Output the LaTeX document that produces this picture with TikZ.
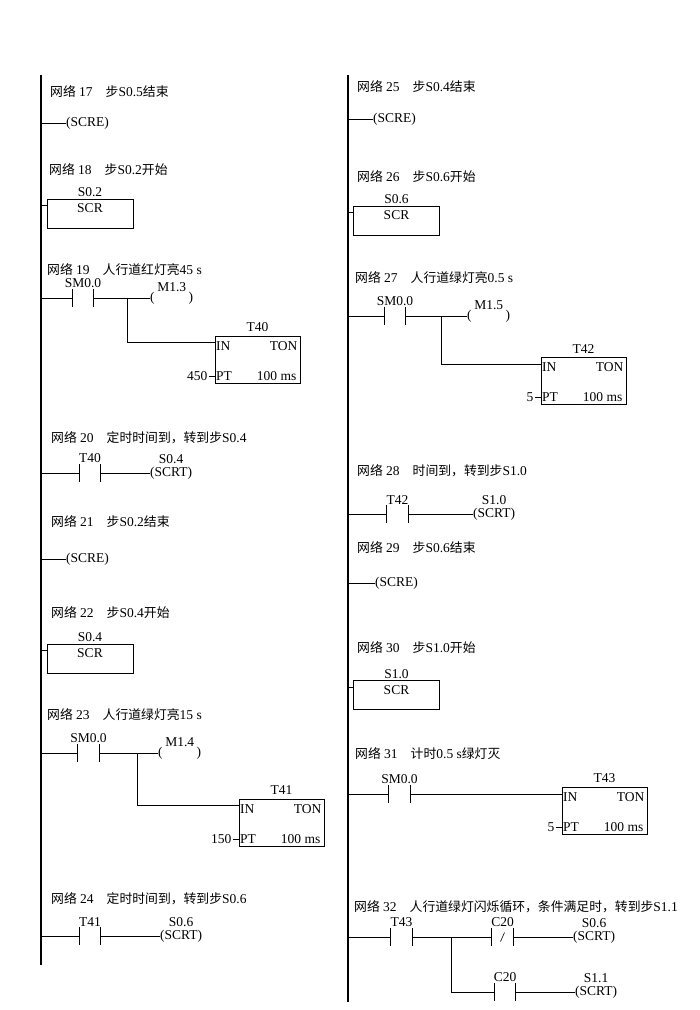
\documentclass[tikz,border=0pt]{standalone}
\usepackage{fontspec}
\setmainfont{Liberation Serif}
\newfontfamily\cjk{Noto Sans CJK SC}[Scale=0.95]
\newcommand\hanzi[1]{{\cjk #1}}
\newcommand\netlabel[2]{\hanzi{网络} #1\hspace{13pt}#2}

\begin{document}
\begin{tikzpicture}[x=1pt,y=-1pt,
		font=\fontsize{13.5}{16}\selectfont,
		rail/.style={line width=1.4pt},
		rung/.style={line width=0.6pt},
		bar/.style={line width=1.1pt},
		nettitle/.style={anchor=west,inner sep=0},
		contact/.style={inner sep=0,minimum width=21pt,minimum height=18pt,
			label={[inner sep=0,label distance=0.5pt]above:#1},
			append after command={(\tikzlastnode.north west) edge[bar] (\tikzlastnode.south west)
				(\tikzlastnode.north east) edge[bar] (\tikzlastnode.south east)}},
		nccontact/.style={contact=#1,
			append after command={([xshift=-2pt,yshift=-4.5pt]\tikzlastnode.center) edge[rung] ([xshift=2pt,yshift=4.5pt]\tikzlastnode.center)}},
		coil/.style={inner sep=0,anchor=west},
		relay/.style={coil,label={[inner sep=0,label distance=0pt]above:#1}},
		scrt/.style={coil,label={[inner sep=0,label distance=3pt]above:#1}},
		scrbox/.style={draw,line width=1pt,minimum width=86pt,minimum height=29pt,inner sep=0,
			label={[inner sep=0,label distance=1.5pt]above:#1},
			label={[anchor=north,inner sep=0,yshift=-5pt]north:SCR}},
		tonbox/.style={draw,line width=1pt,minimum width=85pt,minimum height=47pt,inner sep=0,
			label={[inner sep=0,label distance=3.5pt]above:#1},
			label={[anchor=north west,inner sep=0,xshift=1.5pt,yshift=-5.5pt]north west:IN},
			label={[anchor=north east,inner sep=0,xshift=-3pt,yshift=-5.5pt]north east:TON},
			label={[anchor=south west,inner sep=0,xshift=1.5pt,yshift=3pt]south west:PT},
			label={[anchor=south east,inner sep=0,xshift=-4pt,yshift=3pt]south east:100 ms}},
		preset/.style={anchor=east,inner sep=0}
	]
		\useasboundingbox (0,0) rectangle (700,1010);

		\coordinate (railL) at (41,75);
		\coordinate (railLend) at (41,965);
		\coordinate (railR) at (348,75);
		\coordinate (railRend) at (348,1002);
		\draw[rail] (railL) -- (railLend);
		\draw[rail] (railR) -- (railRend);

		% left column
		\node[nettitle] (t17) at (50,92) {\netlabel{17}{\hanzi{步}S0.5\hanzi{结束}}};
		\node[coil] (c17) at (66,123) {(SCRE)};
		\draw[rung] (c17.west -| railL) -- (c17.west);

		\node[nettitle] (t18) at (49,170) {\netlabel{18}{\hanzi{步}S0.2\hanzi{开始}}};
		\node[scrbox=S0.2] (s18) at (90,213.5) {};
		\coordinate (p18) at ([yshift=8pt]s18.west);
		\draw[rung] (p18 -| railL) -- (p18);

		\node[nettitle] (t19) at (47,270) {\netlabel{19}{\hanzi{人行道红灯亮}45 s}};
		\node[contact=SM0.0] (k19) at (83,298) {};
		\node[relay=M1.3] (c19) at (150,298) {(\hspace{34pt})};
		\coordinate (br19) at (127,298);
		\node[tonbox=T40] (m19) at (257.5,359.5) {};
		\node[preset] (v19) at ([xshift=-7pt,yshift=7.5pt]m19.south west) {450};
		\draw[rung] (k19.west -| railL) -- (k19.west) (k19.east) -- (c19.west);
		\draw[rung] (br19) |- ([yshift=-7pt]m19.north west);
		\draw[rung] ([xshift=1pt]v19.east) -- (v19.east -| m19.west);

		\node[nettitle] (t20) at (51,438) {\netlabel{20}{\hanzi{定时时间到，转到步}S0.4}};
		\node[contact=T40] (k20) at (90,473) {};
		\node[scrt=S0.4] (c20) at (150,473) {(SCRT)};
		\draw[rung] (k20.west -| railL) -- (k20.west) (k20.east) -- (c20.west);

		\node[nettitle] (t21) at (51,522) {\netlabel{21}{\hanzi{步}S0.2\hanzi{结束}}};
		\node[coil] (c21) at (66,559) {(SCRE)};
		\draw[rung] (c21.west -| railL) -- (c21.west);

		\node[nettitle] (t22) at (51,613) {\netlabel{22}{\hanzi{步}S0.4\hanzi{开始}}};
		\node[scrbox=S0.4] (s22) at (90,658.5) {};
		\coordinate (p22) at ([yshift=8pt]s22.west);
		\draw[rung] (p22 -| railL) -- (p22);

		\node[nettitle] (t23) at (47,715) {\netlabel{23}{\hanzi{人行道绿灯亮}15 s}};
		\node[contact=SM0.0] (k23) at (88.5,753) {};
		\node[relay=M1.4] (c23) at (158,753) {(\hspace{34pt})};
		\coordinate (br23) at (137,753);
		\node[tonbox=T41] (m23) at (281.5,822.5) {};
		\node[preset] (v23) at ([xshift=-7pt,yshift=7.5pt]m23.south west) {150};
		\draw[rung] (k23.west -| railL) -- (k23.west) (k23.east) -- (c23.west);
		\draw[rung] (br23) |- ([yshift=-7pt]m23.north west);
		\draw[rung] ([xshift=1pt]v23.east) -- (v23.east -| m23.west);

		\node[nettitle] (t24) at (51,899) {\netlabel{24}{\hanzi{定时时间到，转到步}S0.6}};
		\node[contact=T41] (k24) at (90,936) {};
		\node[scrt=S0.6] (c24) at (160,936) {(SCRT)};
		\draw[rung] (k24.west -| railL) -- (k24.west) (k24.east) -- (c24.west);

		% right column
		\node[nettitle] (t25) at (357,87) {\netlabel{25}{\hanzi{步}S0.4\hanzi{结束}}};
		\node[coil] (c25) at (373,119) {(SCRE)};
		\draw[rung] (c25.west -| railR) -- (c25.west);

		\node[nettitle] (t26) at (357,177) {\netlabel{26}{\hanzi{步}S0.6\hanzi{开始}}};
		\node[scrbox=S0.6] (s26) at (396.5,220.5) {};
		\coordinate (p26) at ([yshift=8pt]s26.west);
		\draw[rung] (p26 -| railR) -- (p26);

		\node[nettitle] (t27) at (355,278) {\netlabel{27}{\hanzi{人行道绿灯亮}0.5 s}};
		\node[contact=SM0.0] (k27) at (395,316) {};
		\node[relay=M1.5] (c27) at (467,316) {(\hspace{34pt})};
		\coordinate (br27) at (441,316);
		\node[tonbox=T42] (m27) at (583.5,381) {};
		\node[preset] (v27) at ([xshift=-7pt,yshift=7.5pt]m27.south west) {5};
		\draw[rung] (k27.west -| railR) -- (k27.west) (k27.east) -- (c27.west);
		\draw[rung] (br27) |- ([yshift=-7pt]m27.north west);
		\draw[rung] ([xshift=1pt]v27.east) -- (v27.east -| m27.west);

		\node[nettitle] (t28) at (357,471) {\netlabel{28}{\hanzi{时间到，转到步}S1.0}};
		\node[contact=T42] (k28) at (397.5,514) {};
		\node[scrt=S1.0] (c28) at (473,514) {(SCRT)};
		\draw[rung] (k28.west -| railR) -- (k28.west) (k28.east) -- (c28.west);

		\node[nettitle] (t29) at (357,548) {\netlabel{29}{\hanzi{步}S0.6\hanzi{结束}}};
		\node[coil] (c29) at (375,583) {(SCRE)};
		\draw[rung] (c29.west -| railR) -- (c29.west);

		\node[nettitle] (t30) at (357,648) {\netlabel{30}{\hanzi{步}S1.0\hanzi{开始}}};
		\node[scrbox=S1.0] (s30) at (396.5,695) {};
		\coordinate (p30) at ([yshift=8pt]s30.west);
		\draw[rung] (p30 -| railR) -- (p30);

		\node[nettitle] (t31) at (355,754) {\netlabel{31}{\hanzi{计时}0.5 s\hanzi{绿灯灭}}};
		\node[contact=SM0.0] (k31) at (399.5,794) {};
		\node[tonbox=T43] (m31) at (604.5,810.5) {};
		\node[preset] (v31) at ([xshift=-7pt,yshift=7.5pt]m31.south west) {5};
		\draw[rung] (k31.west -| railR) -- (k31.west) (k31.east) -- (k31.east -| m31.west);
		\draw[rung] ([xshift=1pt]v31.east) -- (v31.east -| m31.west);

		\node[nettitle] (t32) at (354,907) {\netlabel{32}{\hanzi{人行道绿灯闪烁循环，条件满足时，转到步}S1.1}};
		\node[contact=T43] (k32a) at (401.5,937) {};
		\node[nccontact=C20] (k32b) at (502.5,937) {};
		\node[scrt=S0.6] (c32a) at (573,937) {(SCRT)};
		\coordinate (br32) at (451,937);
		\node[contact=C20] (k32c) at (505,992) {};
		\node[scrt=S1.1] (c32b) at (575,992) {(SCRT)};
		\draw[rung] (k32a.west -| railR) -- (k32a.west) (k32a.east) -- (k32b.west) (k32b.east) -- (c32a.west);
		\draw[rung] (br32) |- (k32c.west);
		\draw[rung] (k32c.east) -- (c32b.west);
	\end{tikzpicture}
\end{document}
